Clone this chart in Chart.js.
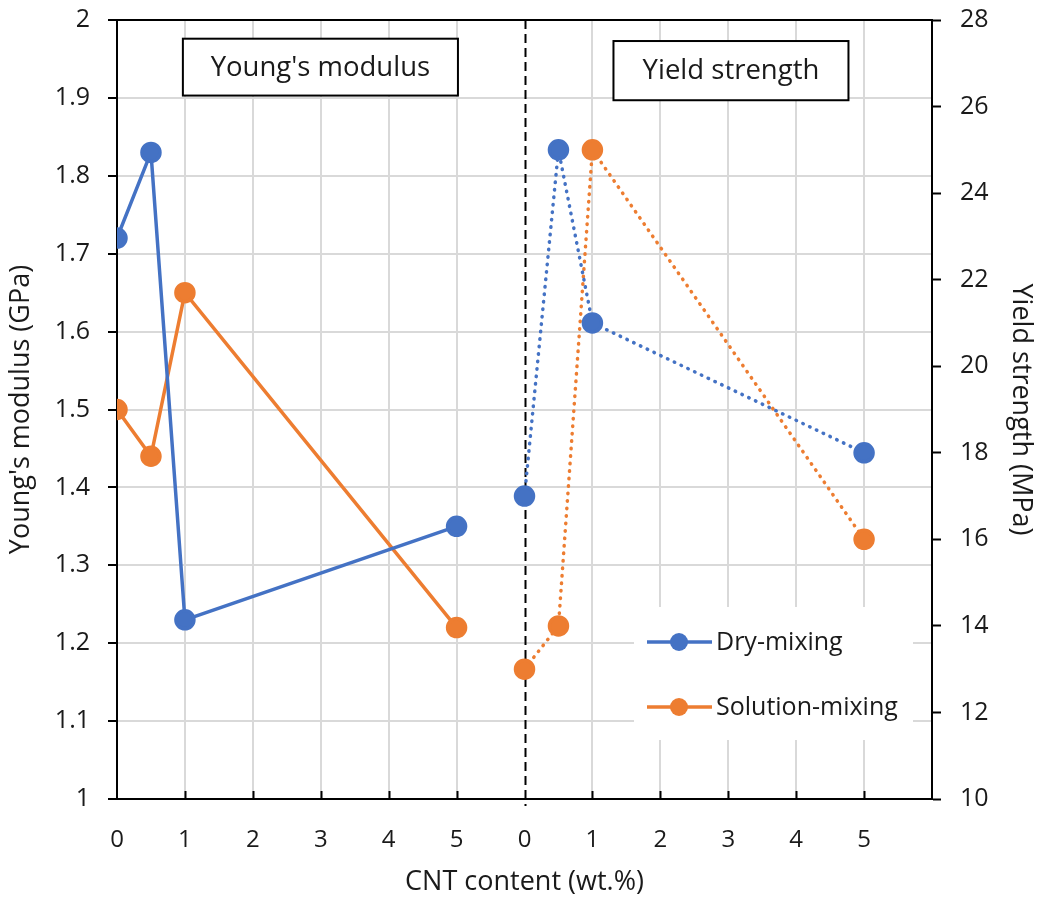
<!DOCTYPE html>
<html>
<head>
<meta charset="utf-8">
<script src="https://cdn.jsdelivr.net/npm/chart.js@4.4.1/dist/chart.umd.min.js"></script>
<style>
  body { margin: 0; background: #fff; }
</style>
</head>
<body>
<canvas id="cntChart" width="1041" height="903"></canvas>
<script>
// CNT content (wt.%) of the samples
var cntContent = [0, 0.5, 1, 5];
// Young's modulus (GPa)
var modulusDry = [1.72, 1.83, 1.23, 1.35];
var modulusSolution = [1.50, 1.44, 1.65, 1.22];
// Yield strength (MPa)
var strengthDry = [17, 25, 21, 18];
var strengthSolution = [13, 14, 25, 16];
// yield strength panel sits 6 units right on the shared x axis
var yieldOffset = 6;
var xTickLabels = ["0", "1", "2", "3", "4", "5", "0", "1", "2", "3", "4", "5", ""];
var panelTitles = ["Young's modulus", "Yield strength"];
var seriesNames = ["Dry-mixing", "Solution-mixing"];

var BLUE = "#4472C4", ORANGE = "#ED7D31";
var FONT = "'Open Sans'";
var TEXT = "#1a1a1a";

function toPoints(xs, ys, shift) {
  return xs.map(function (x, i) { return { x: x + shift, y: ys[i] }; });
}

function series(label, data, color, axis, dotted) {
  return {
    label: label,
    data: data,
    yAxisID: axis,
    borderColor: color,
    backgroundColor: color,
    pointBackgroundColor: color,
    pointBorderColor: color,
    pointRadius: 9,
    pointHoverRadius: 9,
    borderWidth: 3.5,
    borderDash: dotted ? [0.5, 7] : [],
    borderCapStyle: dotted ? "round" : "butt",
    tension: 0
  };
}

// keep the plot box fixed: no extra room for overhanging tick labels
function fixY(width) {
  return function (s) {
    s.width = width;
    s.paddingTop = 0;
    s.paddingBottom = 0;
  };
}

var decorations = {
  id: "decorations",
  beforeDatasetsDraw: function (chart) {
    var ctx = chart.ctx, a = chart.chartArea, x = chart.scales.x;
    ctx.save();
    // legend sits on a white patch that hides the grid
    ctx.fillStyle = "#fff";
    ctx.fillRect(634, 607, 279, 133);

    ctx.strokeStyle = "#000";
    ctx.lineWidth = 2;
    // top frame line
    ctx.beginPath();
    ctx.moveTo(a.left, a.top);
    ctx.lineTo(a.right + 1, a.top);
    ctx.stroke();
    // inward tick marks on the x axis
    ctx.beginPath();
    for (var v = 1; v <= 11; v++) {
      if (v === yieldOffset) continue;
      var px = Math.round(x.getPixelForValue(v)) + 0.5;
      ctx.moveTo(px, a.bottom);
      ctx.lineTo(px, a.bottom - 8);
    }
    ctx.stroke();
    // dashed divider between the two panels
    var xd = Math.round(x.getPixelForValue(yieldOffset)) + 0.5;
    ctx.setLineDash([9, 5]);
    ctx.beginPath();
    ctx.moveTo(xd, a.top);
    ctx.lineTo(xd, a.bottom + 7);
    ctx.stroke();
    ctx.restore();
  },
  afterDraw: function (chart) {
    var ctx = chart.ctx, x = chart.scales.x, y = chart.scales.yL;
    ctx.save();
    // panel title boxes
    var boxes = [
      { text: panelTitles[0], x0: 0.97, x1: 5.02, y0: 1.976, y1: 1.903 },
      { text: panelTitles[1], x0: 7.31, x1: 10.77, y0: 1.973, y1: 1.897 }
    ];
    ctx.font = "27.5px " + FONT;
    ctx.textAlign = "center";
    ctx.textBaseline = "middle";
    boxes.forEach(function (b) {
      var l = x.getPixelForValue(b.x0), r = x.getPixelForValue(b.x1);
      var t = y.getPixelForValue(b.y0), btm = y.getPixelForValue(b.y1);
      ctx.fillStyle = "#fff";
      ctx.fillRect(l, t, r - l, btm - t);
      ctx.strokeStyle = "#000";
      ctx.lineWidth = 2;
      ctx.strokeRect(l, t, r - l, btm - t);
      ctx.fillStyle = TEXT;
      ctx.fillText(b.text, (l + r) / 2, (t + btm) / 2 + 1);
    });
    // legend
    var colors = [BLUE, ORANGE];
    ctx.textAlign = "left";
    ctx.font = "25px " + FONT;
    seriesNames.forEach(function (name, i) {
      var ly = 642 + i * 65;
      ctx.strokeStyle = colors[i];
      ctx.lineWidth = 3.5;
      ctx.beginPath();
      ctx.moveTo(647, ly);
      ctx.lineTo(712, ly);
      ctx.stroke();
      ctx.fillStyle = colors[i];
      ctx.beginPath();
      ctx.arc(679, ly, 9, 0, Math.PI * 2);
      ctx.fill();
      ctx.fillStyle = TEXT;
      ctx.fillText(name, 716, ly + 1);
    });
    ctx.restore();
  }
};

var ctx = document.getElementById("cntChart").getContext("2d");
var cntChart = new Chart(ctx, {
  type: "line",
  data: {
    datasets: [
      series(seriesNames[0], toPoints(cntContent, modulusDry, 0), BLUE, "yL", false),
      series(seriesNames[1], toPoints(cntContent, modulusSolution, 0), ORANGE, "yL", false),
      series(seriesNames[0], toPoints(cntContent, strengthDry, yieldOffset), BLUE, "yR", true),
      series(seriesNames[1], toPoints(cntContent, strengthSolution, yieldOffset), ORANGE, "yR", true)
    ]
  },
  options: {
    responsive: false,
    animation: false,
    layout: { padding: { top: 20 } },
    plugins: {
      legend: { display: false },
      tooltip: { enabled: false }
    },
    scales: {
      x: {
        type: "linear",
        min: 0,
        max: 12,
        afterFit: function (s) {
          s.height = 104;
          s.paddingLeft = 0;
          s.paddingRight = 0;
        },
        ticks: {
          stepSize: 1,
          padding: 27,
          color: TEXT,
          font: { family: FONT, size: 24 },
          callback: function (v) { return xTickLabels[v]; }
        },
        grid: {
          drawTicks: false,
          color: function (c) {
            return c.tick && c.tick.value === yieldOffset ? "rgba(0,0,0,0)" : "#d9d9d9";
          },
          lineWidth: 2
        },
        border: { color: "#000", width: 2 },
        title: {
          display: true,
          text: "CNT content (wt.%)",
          color: TEXT,
          font: { family: FONT, size: 27 },
          padding: { top: 0, bottom: 4 }
        }
      },
      yL: {
        position: "left",
        min: 1,
        max: 2,
        afterFit: fixY(117),
        ticks: {
          stepSize: 0.1,
          padding: 18,
          color: TEXT,
          font: { family: FONT, size: 25 },
          callback: function (v) { return String(parseFloat(v.toFixed(1))); }
        },
        grid: {
          color: "#d9d9d9",
          lineWidth: 2,
          tickColor: "#000",
          tickLength: 9,
          tickWidth: 2
        },
        border: { color: "#000", width: 2 },
        title: {
          display: true,
          text: "Young's modulus (GPa)",
          color: TEXT,
          font: { family: FONT, size: 27 },
          padding: { top: 5, bottom: 0 }
        }
      },
      yR: {
        position: "right",
        min: 10,
        max: 28,
        afterFit: fixY(109),
        ticks: {
          stepSize: 2,
          padding: 19,
          color: TEXT,
          font: { family: FONT, size: 25 }
        },
        grid: {
          drawOnChartArea: false,
          tickColor: "#000",
          tickLength: 9,
          tickWidth: 2
        },
        border: { color: "#000", width: 2 },
        title: {
          display: true,
          text: "Yield strength (MPa)",
          color: TEXT,
          font: { family: FONT, size: 27 },
          padding: { top: 4, bottom: 0 }
        }
      }
    }
  },
  plugins: [decorations]
});
</script>
</body>
</html>
